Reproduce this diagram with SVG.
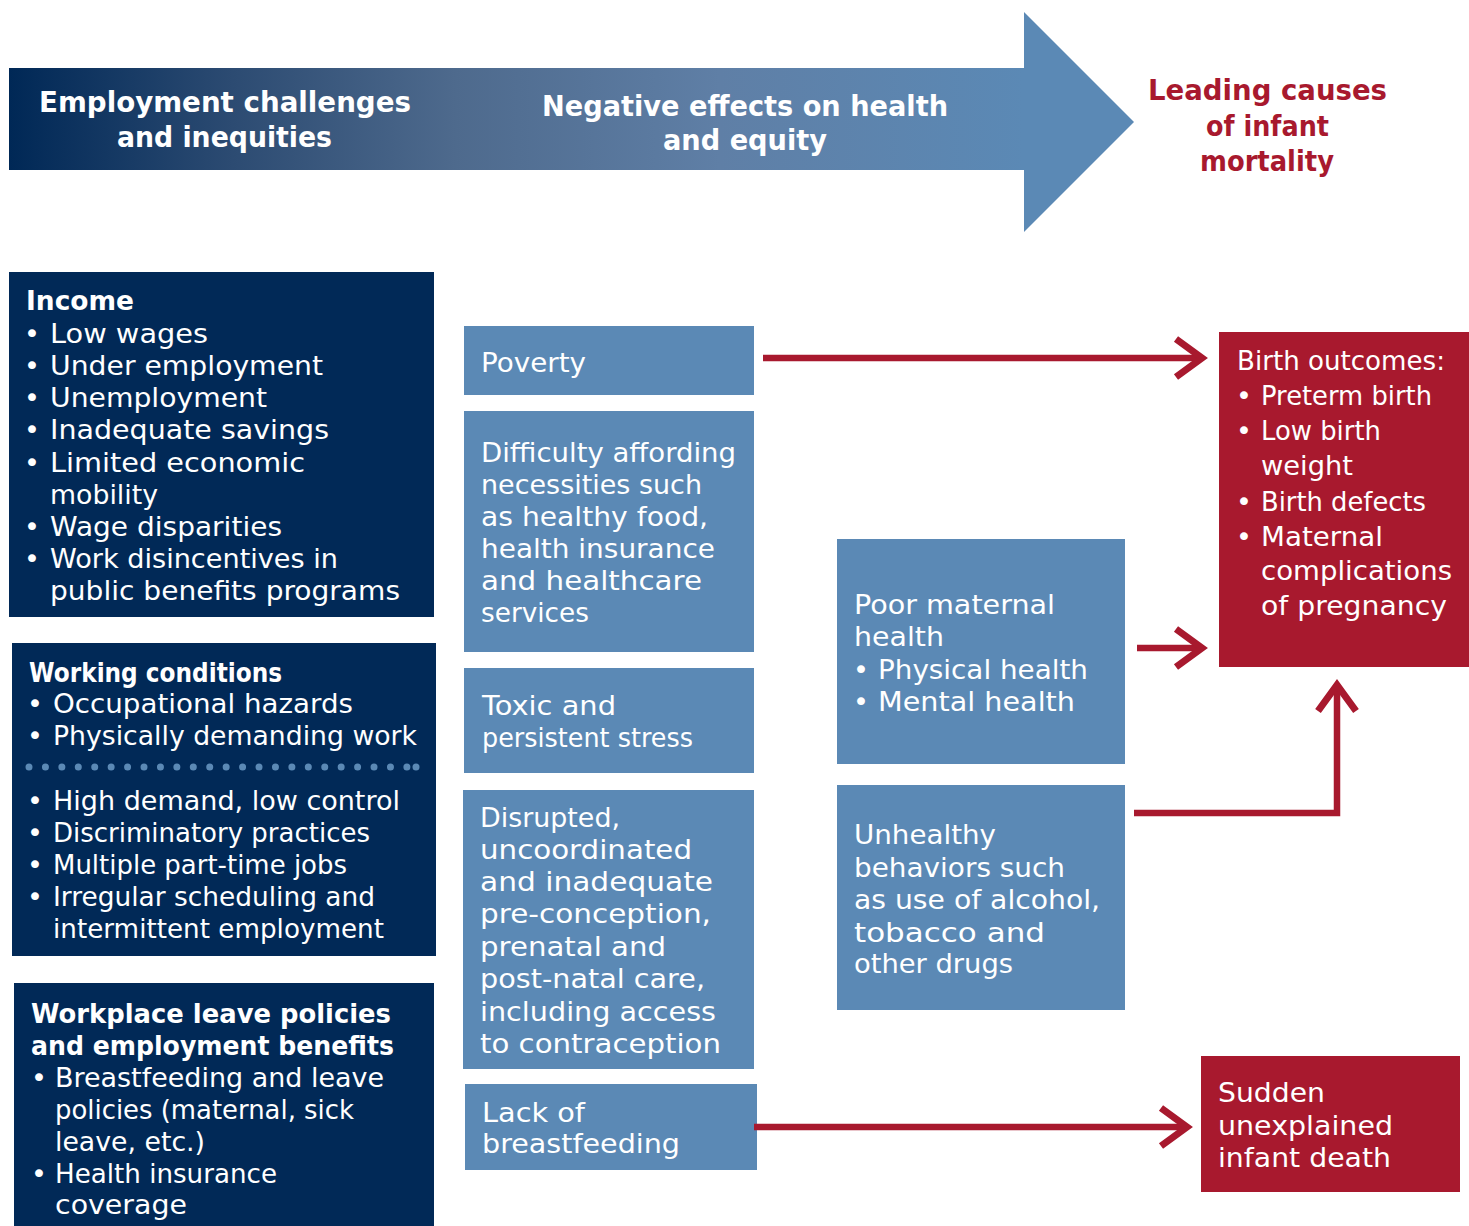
<svg xmlns="http://www.w3.org/2000/svg" width="1469" height="1226" viewBox="0 0 1469 1226">
<style>
.nav{fill:#012957}
.mid{fill:#5b89b5}
.red{fill:#a8192e}
text{font-family:"DejaVu Sans","Liberation Sans",sans-serif}
.t{font-size:27px;fill:#fff}
.h{font-size:26px;font-weight:bold;fill:#fff}
.top{font-size:28px;font-weight:bold;fill:#fff}
.topr{font-size:28px;font-weight:bold;fill:#a8192e}
.conn{fill:none;stroke:#a8192e;stroke-width:6.5;stroke-linejoin:miter}
</style>
<defs>
<linearGradient id="g" gradientUnits="userSpaceOnUse" x1="9" y1="0" x2="1024" y2="0">
<stop offset="0" stop-color="#002856"/>
<stop offset="0.22" stop-color="#2c4b72"/>
<stop offset="0.44" stop-color="#4e6a8d"/>
<stop offset="0.7" stop-color="#5f7fa6"/>
<stop offset="1" stop-color="#5b89b5"/>
</linearGradient>
<marker id="chev" markerUnits="userSpaceOnUse" orient="auto" overflow="visible" refX="0" refY="0" markerWidth="1" markerHeight="1">
<path d="M-26 -19 L0 0 L-26 19" fill="none" stroke="#a8192e" stroke-width="7"/>
</marker>
</defs>

<g id="banner">
<polygon points="9,68 1024,68 1024,12 1134,122 1024,232 1024,170 9,170" fill="url(#g)"/>
<text class="top" x="39" y="112" textLength="372" lengthAdjust="spacingAndGlyphs">Employment challenges</text>
<text class="top" x="117" y="147" textLength="215" lengthAdjust="spacingAndGlyphs">and inequities</text>
<text class="top" x="542" y="116" textLength="406" lengthAdjust="spacingAndGlyphs">Negative effects on health</text>
<text class="top" x="663" y="150" textLength="164" lengthAdjust="spacingAndGlyphs">and equity</text>
</g>
<g id="title-leading">
<text class="topr" x="1148" y="100" textLength="239" lengthAdjust="spacingAndGlyphs">Leading causes</text>
<text class="topr" x="1206" y="136" textLength="123" lengthAdjust="spacingAndGlyphs">of infant</text>
<text class="topr" x="1200" y="171" textLength="134" lengthAdjust="spacingAndGlyphs">mortality</text>
</g>

<g id="income">
<rect class="nav" x="9" y="272" width="425" height="345"/>
<text class="h" x="26" y="310" textLength="108" lengthAdjust="spacingAndGlyphs">Income</text>
<text class="t" x="24" y="343">•</text>
<text class="t" x="50" y="343" textLength="158" lengthAdjust="spacingAndGlyphs">Low wages</text>
<text class="t" x="24" y="375">•</text>
<text class="t" x="50" y="375" textLength="273" lengthAdjust="spacingAndGlyphs">Under employment</text>
<text class="t" x="24" y="407">•</text>
<text class="t" x="50" y="407" textLength="217" lengthAdjust="spacingAndGlyphs">Unemployment</text>
<text class="t" x="24" y="439">•</text>
<text class="t" x="50" y="439" textLength="279" lengthAdjust="spacingAndGlyphs">Inadequate savings</text>
<text class="t" x="24" y="472">•</text>
<text class="t" x="50" y="472" textLength="255" lengthAdjust="spacingAndGlyphs">Limited economic</text>
<text class="t" x="50" y="504" textLength="108" lengthAdjust="spacingAndGlyphs">mobility</text>
<text class="t" x="24" y="536">•</text>
<text class="t" x="50" y="536" textLength="232" lengthAdjust="spacingAndGlyphs">Wage disparities</text>
<text class="t" x="24" y="568">•</text>
<text class="t" x="50" y="568" textLength="288" lengthAdjust="spacingAndGlyphs">Work disincentives in</text>
<text class="t" x="50" y="600" textLength="350" lengthAdjust="spacingAndGlyphs">public benefits programs</text>
</g>

<g id="working-conditions">
<rect class="nav" x="12" y="643" width="424" height="313"/>
<text class="h" x="29" y="682" textLength="253" lengthAdjust="spacingAndGlyphs">Working conditions</text>
<text class="t" x="27" y="713">•</text>
<text class="t" x="53" y="713" textLength="300" lengthAdjust="spacingAndGlyphs">Occupational hazards</text>
<text class="t" x="27" y="745">•</text>
<text class="t" x="53" y="745" textLength="364" lengthAdjust="spacingAndGlyphs">Physically demanding work</text>
<line x1="29" y1="767" x2="407" y2="767" stroke="#5b89b5" stroke-width="7" stroke-linecap="round" stroke-dasharray="0 16.43"/>
<circle cx="416" cy="767" r="3.5" fill="#5b89b5"/>
<text class="t" x="27" y="810">•</text>
<text class="t" x="53" y="810" textLength="347" lengthAdjust="spacingAndGlyphs">High demand, low control</text>
<text class="t" x="27" y="842">•</text>
<text class="t" x="53" y="842" textLength="317" lengthAdjust="spacingAndGlyphs">Discriminatory practices</text>
<text class="t" x="27" y="874">•</text>
<text class="t" x="53" y="874" textLength="294" lengthAdjust="spacingAndGlyphs">Multiple part-time jobs</text>
<text class="t" x="27" y="906">•</text>
<text class="t" x="53" y="906" textLength="322" lengthAdjust="spacingAndGlyphs">Irregular scheduling and</text>
<text class="t" x="53" y="938" textLength="331" lengthAdjust="spacingAndGlyphs">intermittent employment</text>
</g>

<g id="workplace-leave">
<rect class="nav" x="14" y="983" width="420" height="243"/>
<text class="h" x="31" y="1023" textLength="360" lengthAdjust="spacingAndGlyphs">Workplace leave policies</text>
<text class="h" x="31" y="1055" textLength="363" lengthAdjust="spacingAndGlyphs">and employment benefits</text>
<text class="t" x="31" y="1087">•</text>
<text class="t" x="55" y="1087" textLength="329" lengthAdjust="spacingAndGlyphs">Breastfeeding and leave</text>
<text class="t" x="55" y="1119" textLength="299" lengthAdjust="spacingAndGlyphs">policies (maternal, sick</text>
<text class="t" x="55" y="1151" textLength="150" lengthAdjust="spacingAndGlyphs">leave, etc.)</text>
<text class="t" x="31" y="1183">•</text>
<text class="t" x="55" y="1183" textLength="222" lengthAdjust="spacingAndGlyphs">Health insurance</text>
<text class="t" x="55" y="1214" textLength="132" lengthAdjust="spacingAndGlyphs">coverage</text>
</g>

<g id="poverty">
<rect class="mid" x="464" y="326" width="290" height="69"/>
<text class="t" x="481" y="372" textLength="105" lengthAdjust="spacingAndGlyphs">Poverty</text>
</g>

<g id="difficulty">
<rect class="mid" x="464" y="411" width="290" height="241"/>
<text class="t" x="481" y="462" textLength="255" lengthAdjust="spacingAndGlyphs">Difficulty affording</text>
<text class="t" x="481" y="494" textLength="221" lengthAdjust="spacingAndGlyphs">necessities such</text>
<text class="t" x="481" y="526" textLength="227" lengthAdjust="spacingAndGlyphs">as healthy food,</text>
<text class="t" x="481" y="558" textLength="234" lengthAdjust="spacingAndGlyphs">health insurance</text>
<text class="t" x="481" y="590" textLength="221" lengthAdjust="spacingAndGlyphs">and healthcare</text>
<text class="t" x="481" y="622" textLength="108" lengthAdjust="spacingAndGlyphs">services</text>
</g>

<g id="toxic-stress">
<rect class="mid" x="464" y="668" width="290" height="105"/>
<text class="t" x="482" y="715" textLength="134" lengthAdjust="spacingAndGlyphs">Toxic and</text>
<text class="t" x="482" y="747" textLength="211" lengthAdjust="spacingAndGlyphs">persistent stress</text>
</g>

<g id="disrupted-care">
<rect class="mid" x="463" y="790" width="291" height="279"/>
<text class="t" x="480" y="827" textLength="140" lengthAdjust="spacingAndGlyphs">Disrupted,</text>
<text class="t" x="480" y="859" textLength="212" lengthAdjust="spacingAndGlyphs">uncoordinated</text>
<text class="t" x="480" y="891" textLength="233" lengthAdjust="spacingAndGlyphs">and inadequate</text>
<text class="t" x="480" y="923" textLength="231" lengthAdjust="spacingAndGlyphs">pre-conception,</text>
<text class="t" x="480" y="956" textLength="186" lengthAdjust="spacingAndGlyphs">prenatal and</text>
<text class="t" x="480" y="988" textLength="225" lengthAdjust="spacingAndGlyphs">post-natal care,</text>
<text class="t" x="480" y="1021" textLength="236" lengthAdjust="spacingAndGlyphs">including access</text>
<text class="t" x="480" y="1053" textLength="241" lengthAdjust="spacingAndGlyphs">to contraception</text>
</g>

<g id="lack-breastfeeding">
<rect class="mid" x="465" y="1084" width="292" height="86"/>
<text class="t" x="482" y="1122" textLength="103" lengthAdjust="spacingAndGlyphs">Lack of</text>
<text class="t" x="482" y="1153" textLength="198" lengthAdjust="spacingAndGlyphs">breastfeeding</text>
</g>

<g id="poor-maternal-health">
<rect class="mid" x="837" y="539" width="288" height="225"/>
<text class="t" x="854" y="614" textLength="201" lengthAdjust="spacingAndGlyphs">Poor maternal</text>
<text class="t" x="854" y="646" textLength="90" lengthAdjust="spacingAndGlyphs">health</text>
<text class="t" x="853" y="679">•</text>
<text class="t" x="878" y="679" textLength="210" lengthAdjust="spacingAndGlyphs">Physical health</text>
<text class="t" x="853" y="711">•</text>
<text class="t" x="878" y="711" textLength="197" lengthAdjust="spacingAndGlyphs">Mental health</text>
</g>

<g id="unhealthy-behaviors">
<rect class="mid" x="837" y="785" width="288" height="225"/>
<text class="t" x="854" y="844" textLength="142" lengthAdjust="spacingAndGlyphs">Unhealthy</text>
<text class="t" x="854" y="877" textLength="211" lengthAdjust="spacingAndGlyphs">behaviors such</text>
<text class="t" x="854" y="909" textLength="246" lengthAdjust="spacingAndGlyphs">as use of alcohol,</text>
<text class="t" x="854" y="942" textLength="191" lengthAdjust="spacingAndGlyphs">tobacco and</text>
<text class="t" x="854" y="973" textLength="159" lengthAdjust="spacingAndGlyphs">other drugs</text>
</g>

<g id="birth-outcomes">
<rect class="red" x="1219" y="332" width="250" height="335"/>
<text class="t" x="1237" y="370" textLength="208" lengthAdjust="spacingAndGlyphs">Birth outcomes:</text>
<text class="t" x="1236" y="405">•</text>
<text class="t" x="1261" y="405" textLength="171" lengthAdjust="spacingAndGlyphs">Preterm birth</text>
<text class="t" x="1236" y="440">•</text>
<text class="t" x="1261" y="440" textLength="120" lengthAdjust="spacingAndGlyphs">Low birth</text>
<text class="t" x="1261" y="475" textLength="92" lengthAdjust="spacingAndGlyphs">weight</text>
<text class="t" x="1236" y="511">•</text>
<text class="t" x="1261" y="511" textLength="165" lengthAdjust="spacingAndGlyphs">Birth defects</text>
<text class="t" x="1236" y="546">•</text>
<text class="t" x="1261" y="546" textLength="122" lengthAdjust="spacingAndGlyphs">Maternal</text>
<text class="t" x="1261" y="580" textLength="191" lengthAdjust="spacingAndGlyphs">complications</text>
<text class="t" x="1261" y="615" textLength="186" lengthAdjust="spacingAndGlyphs">of pregnancy</text>
</g>

<g id="sudden-death">
<rect class="red" x="1201" y="1056" width="259" height="136"/>
<text class="t" x="1218" y="1102" textLength="107" lengthAdjust="spacingAndGlyphs">Sudden</text>
<text class="t" x="1218" y="1135" textLength="175" lengthAdjust="spacingAndGlyphs">unexplained</text>
<text class="t" x="1218" y="1167" textLength="173" lengthAdjust="spacingAndGlyphs">infant death</text>
</g>

<g id="connectors">
<path class="conn" d="M763 358 H1202" marker-end="url(#chev)"/>
<path class="conn" d="M1137 648 H1202" marker-end="url(#chev)"/>
<path class="conn" d="M1134 813 H1337 V685" marker-end="url(#chev)"/>
<path class="conn" d="M754 1127 H1187" marker-end="url(#chev)"/>
</g>
</svg>
